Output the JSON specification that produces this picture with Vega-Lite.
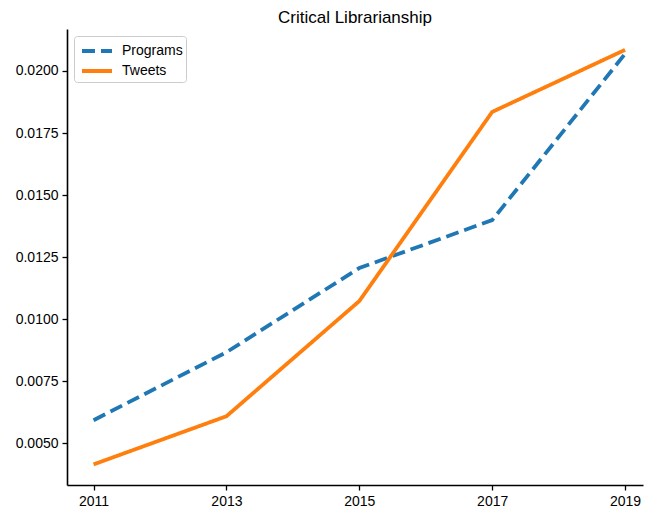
{
  "$schema": "https://vega.github.io/schema/vega-lite/v6.json",
  "width": 576,
  "height": 456,
  "autosize": {"type": "none"},
  "padding": {"left": 67, "top": 29, "right": 10, "bottom": 29},
  "background": "white",
  "title": {"text": "Critical Librarianship", "font": "Liberation Sans", "fontSize": 17, "fontWeight": "normal", "color": "black", "offset": 2, "anchor": "middle"},
  "config": {
    "view": {"stroke": null},
    "axis": {"grid": false, "domainColor": "black", "domainWidth": 1.6, "tickColor": "black", "tickWidth": 1.3, "tickSize": 5, "labelFont": "Liberation Sans", "labelFontSize": 14, "labelColor": "black", "labelPadding": 4, "title": null}
  },
  "data": {"values": [
    {"year": 2011, "series": "Programs", "value": 0.00593},
    {"year": 2013, "series": "Programs", "value": 0.00867},
    {"year": 2015, "series": "Programs", "value": 0.01206},
    {"year": 2017, "series": "Programs", "value": 0.01399},
    {"year": 2019, "series": "Programs", "value": 0.02069},
    {"year": 2011, "series": "Tweets", "value": 0.00415},
    {"year": 2013, "series": "Tweets", "value": 0.00609},
    {"year": 2015, "series": "Tweets", "value": 0.01073},
    {"year": 2017, "series": "Tweets", "value": 0.01835},
    {"year": 2019, "series": "Tweets", "value": 0.02085}
  ]},
  "mark": {"type": "line", "strokeWidth": 3.8, "clip": true},
  "encoding": {
    "x": {"field": "year", "type": "quantitative", "scale": {"domain": [2010.6, 2019.27], "nice": false, "zero": false}, "axis": {"values": [2011, 2013, 2015, 2017, 2019], "format": "d"}},
    "y": {"field": "value", "type": "quantitative", "scale": {"domain": [0.00332, 0.02169], "nice": false, "zero": false}, "axis": {"values": [0.005, 0.0075, 0.01, 0.0125, 0.015, 0.0175, 0.02], "format": ".4f"}},
    "color": {"field": "series", "type": "nominal", "scale": {"domain": ["Programs", "Tweets"], "range": ["#1f77b4", "#ff7f0e"]},
      "legend": {"title": null, "orient": "none", "legendX": 7, "legendY": 7, "symbolType": "M-0.7,0H2.3", "symbolStrokeWidth": 4, "symbolSize": 400, "labelFont": "Liberation Sans", "labelFontSize": 14, "labelColor": "black", "labelOffset": 21, "strokeColor": "#cccccc", "fillColor": "white", "cornerRadius": 3, "padding": 3, "rowPadding": 0}},
    "strokeDash": {"field": "series", "type": "nominal", "scale": {"domain": ["Programs", "Tweets"], "range": [[13, 6], [1, 0]]}, "legend": null}
  }
}
